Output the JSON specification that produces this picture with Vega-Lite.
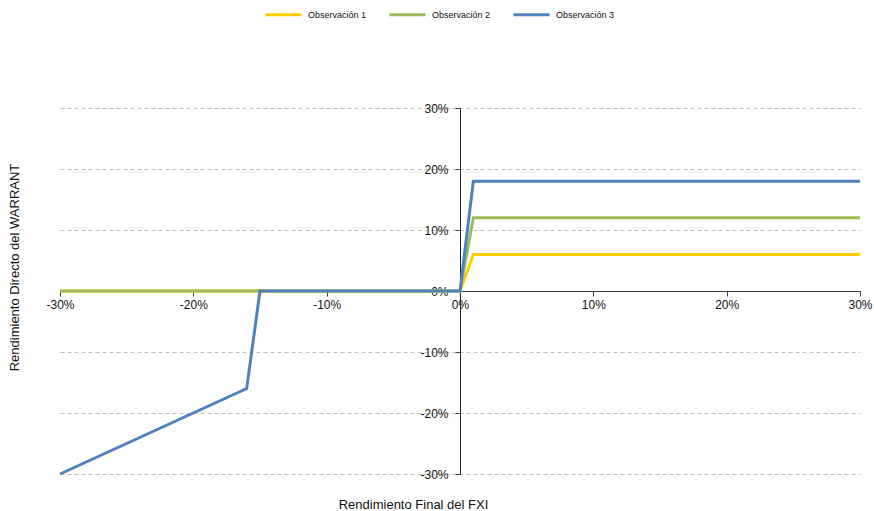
{
  "$schema": "https://vega.github.io/schema/vega-lite/v6.json",
  "width": 800,
  "height": 366,
  "autosize": {"type": "none"},
  "padding": {"left": 60, "top": 108, "right": 14, "bottom": 37},
  "background": "white",
  "config": {
    "view": {"stroke": null},
    "font": "Liberation Sans"
  },
  "data": {
    "values": [
      {"x": -0.30, "y": 0, "s": "Observación 1"},
      {"x": 0.00, "y": 0, "s": "Observación 1"},
      {"x": 0.01, "y": 0.06, "s": "Observación 1"},
      {"x": 0.30, "y": 0.06, "s": "Observación 1"},
      {"x": -0.30, "y": 0, "s": "Observación 2"},
      {"x": 0.00, "y": 0, "s": "Observación 2"},
      {"x": 0.01, "y": 0.12, "s": "Observación 2"},
      {"x": 0.30, "y": 0.12, "s": "Observación 2"},
      {"x": -0.30, "y": -0.30, "s": "Observación 3"},
      {"x": -0.16, "y": -0.16, "s": "Observación 3"},
      {"x": -0.15, "y": 0, "s": "Observación 3"},
      {"x": 0.00, "y": 0, "s": "Observación 3"},
      {"x": 0.01, "y": 0.18, "s": "Observación 3"},
      {"x": 0.30, "y": 0.18, "s": "Observación 3"}
    ]
  },
  "mark": {"type": "line", "strokeWidth": 3, "strokeJoin": "miter", "clip": false},
  "encoding": {
    "x": {
      "field": "x", "type": "quantitative",
      "scale": {"domain": [-0.3, 0.3], "nice": false, "zero": false},
      "axis": {
        "title": "Rendimiento Final del FXI",
        "format": ".0%",
        "labelExpr": "datum.value < 0 ? '-' + format(-datum.value, '.0%') : format(datum.value, '.0%')",
        "values": [-0.3, -0.2, -0.1, 0, 0.1, 0.2, 0.3],
        "offset": -183,
        "grid": false,
        "labelFlush": false,
        "labelOverlap": false,
        "domainColor": "#404040",
        "tickColor": "#404040",
        "tickSize": 5,
        "labelPadding": 3,
        "labelFontSize": 12,
        "labelColor": "#111",
        "titleFontSize": 13,
        "titleFontWeight": "normal",
        "titleColor": "#111",
        "titleX": 353,
        "titleY": 207,
        "titleBaseline": "top"
      }
    },
    "y": {
      "field": "y", "type": "quantitative",
      "scale": {"domain": [-0.3, 0.3], "nice": false, "zero": false},
      "axis": {
        "title": "Rendimiento Directo del WARRANT",
        "format": ".0%",
        "labelExpr": "datum.value < 0 ? '-' + format(-datum.value, '.0%') : format(datum.value, '.0%')",
        "values": [-0.3, -0.2, -0.1, 0, 0.1, 0.2, 0.3],
        "offset": -400,
        "grid": true,
        "labelFlush": false,
        "labelOverlap": false,
        "gridColor": "#c0c0c0",
        "gridDash": [4, 3],
        "gridWidth": 1,
        "domainColor": "#222",
        "tickColor": "#404040",
        "tickSize": 5,
        "labelPadding": 7,
        "labelFontSize": 12,
        "labelColor": "#111",
        "titleFontSize": 13,
        "titleFontWeight": "normal",
        "titleColor": "#111",
        "titleAngle": -90,
        "titleX": -446,
        "titleY": 159,
        "titleBaseline": "middle",
        "titleAlign": "center"
      }
    },
    "color": {
      "field": "s", "type": "nominal",
      "scale": {
        "domain": ["Observación 1", "Observación 2", "Observación 3"],
        "range": ["#FFCC00", "#9BBB59", "#4F81BD"]
      },
      "legend": {
        "title": null,
        "orient": "none",
        "direction": "horizontal",
        "legendX": 204,
        "legendY": -113,
        "symbolType": "stroke",
        "symbolSize": 1296,
        "symbolStrokeWidth": 3,
        "labelFontSize": 9,
        "labelColor": "#111",
        "labelOffset": 5,
        "columnPadding": 16
      }
    }
  }
}
